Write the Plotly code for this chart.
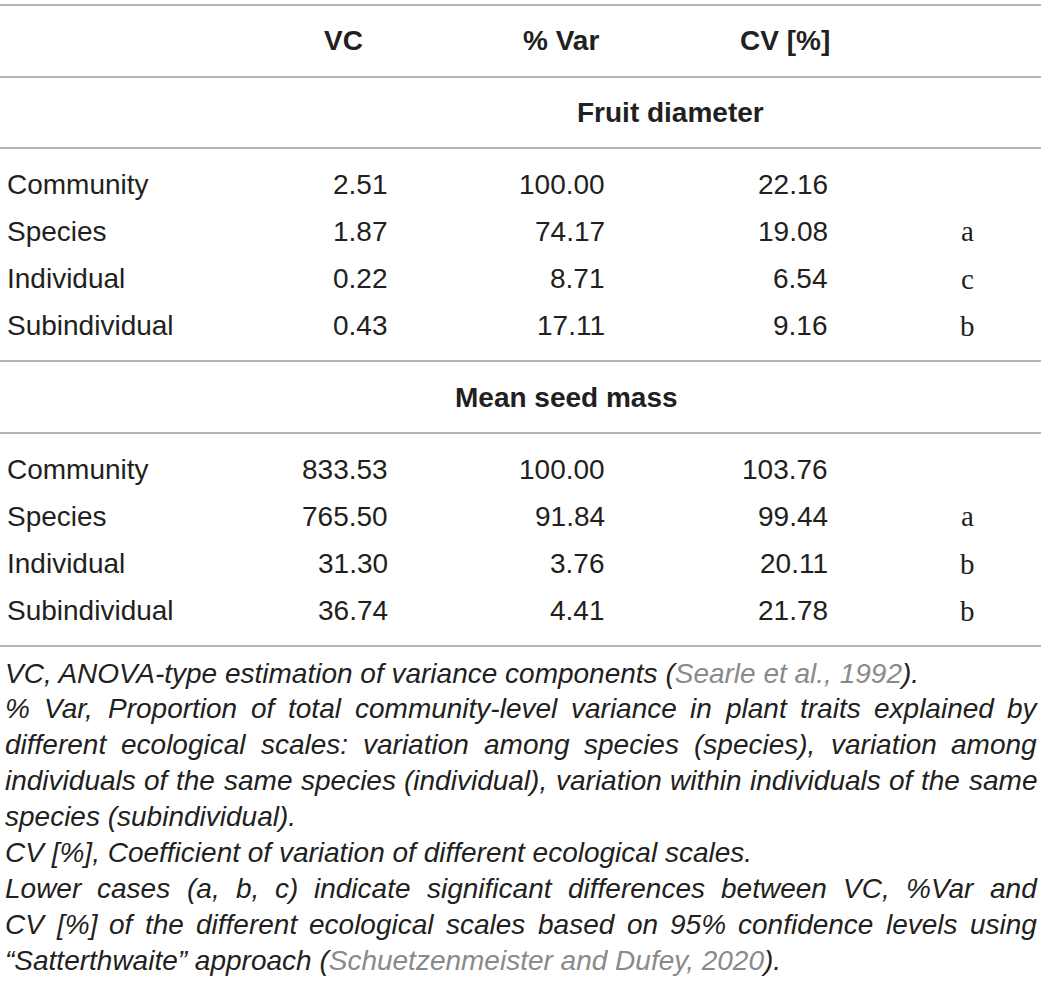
import plotly.graph_objects as go

# table content
headers = ["VC", "% Var", "CV [%]"]
groups = ["Fruit diameter", "Mean seed mass"]
scales = ["Community", "Species", "Individual", "Subindividual"]
vc_fruit = ["2.51", "1.87", "0.22", "0.43"]
var_fruit = ["100.00", "74.17", "8.71", "17.11"]
cv_fruit = ["22.16", "19.08", "6.54", "9.16"]
sig_fruit = ["", "a", "c", "b"]
vc_seed = ["833.53", "765.50", "31.30", "36.74"]
var_seed = ["100.00", "91.84", "3.76", "4.41"]
cv_seed = ["103.76", "99.44", "20.11", "21.78"]
sig_seed = ["", "a", "b", "b"]

grey = "#9a9a9a"
cite = "#8a8a8a"
# (text, justified?)
footnotes = [
    ("VC, ANOVA-type estimation of variance components (<span style='color:" + cite + "'>Searle et al., 1992</span>).", False),
    ("% Var, Proportion of total community-level variance in plant traits explained by", True),
    ("different ecological scales: variation among species (species), variation among", True),
    ("individuals of the same species (individual), variation within individuals of the same", True),
    ("species (subindividual).", False),
    ("CV [%], Coefficient of variation of different ecological scales.", False),
    ("Lower cases (a, b, c) indicate significant differences between VC, %Var and", True),
    ("CV [%] of the different ecological scales based on 95% confidence levels using", True),
    ("\u201cSatterthwaite\u201d approach (<span style='color:" + cite + "'>Schuetzenmeister and Dufey, 2020</span>).", False),
]

W, H = 1041, 993
txt = "#231f20"
fnt = "Liberation Sans, Arial, sans-serif"
fs = 28
fn_size = 28

# Arial / Liberation Sans advance widths (1/1000 em), used to justify footnote lines
adv = {" ": 278, "%": 889, "(": 333, ")": 333, ",": 278, "-": 333, ".": 278, ":": 278,
       "[": 278, "]": 278, "\u201c": 333, "\u201d": 333}
for ch in "0123456789":
    adv[ch] = 556
for ch, w in zip("ABCDEFGHIJKLMNOPQRSTUVWXYZ",
                 [667, 667, 722, 722, 667, 611, 778, 722, 278, 500, 667, 556, 833,
                  722, 778, 667, 778, 722, 667, 611, 722, 667, 944, 667, 667, 611]):
    adv[ch] = w
for ch, w in zip("abcdefghijklmnopqrstuvwxyz",
                 [556, 556, 500, 556, 556, 278, 556, 556, 222, 222, 500, 222, 833,
                  556, 556, 556, 556, 333, 500, 278, 556, 500, 722, 500, 500, 500]):
    adv[ch] = w


def text_width(s, size):
    return sum(adv.get(ch, 556) for ch in s) * size / 1000.0


fig = go.Figure()
fig.add_trace(go.Scatter(x=[0, W], y=[0, H], mode="markers", marker=dict(opacity=0), hoverinfo="skip"))


def ann(x, y, t, anchor="left", bold=False, size=fs, italic=False, family=fnt, color=txt):
    if bold:
        t = "<b>" + t + "</b>"
    if italic:
        t = "<i>" + t + "</i>"
    fig.add_annotation(x=x, y=y, text=t, showarrow=False, xanchor=anchor, yanchor="middle",
                       font=dict(family=family, size=size, color=color))


def hline(y):
    fig.add_shape(type="line", x0=0, x1=W, y0=y, y1=y, line=dict(color=grey, width=1.5))


# header
hline(5)
ann(343, 40, headers[0], "center", bold=True)
ann(561, 40, headers[1], "center", bold=True)
ann(785, 40, headers[2], "center", bold=True)
hline(77)

col_right = [390, 607, 830]
row_h = 47.3

blocks = [
    (groups[0], 670, 112, [vc_fruit, var_fruit, cv_fruit], sig_fruit),
    (groups[1], 566, 397, [vc_seed, var_seed, cv_seed], sig_seed),
]
for name, cx, gy, cols, sig in blocks:
    ann(cx, gy, name, "center", bold=True)
    hline(gy + 36)
    for i, s in enumerate(scales):
        y = gy + 72 + i * row_h
        ann(5, y, s)
        for c, vals in enumerate(cols):
            ann(col_right[c], y, vals[i], "right")
        if sig[i]:
            ann(967, y, sig[i], "center", family="Liberation Serif, Times New Roman, serif", size=29)
    hline(gy + 72 + 3 * row_h + 35)

# footnotes
left, right = 3, 1035
for k, (line, justify) in enumerate(footnotes):
    y = 673 + k * 35.9
    if not justify:
        ann(left, y, line, italic=True, size=fn_size)
        continue
    words = line.split(" ")
    ws = [text_width(w, fn_size) for w in words]
    gap = (right - left - sum(ws)) / (len(words) - 1)
    x = left
    for w, wd in zip(words, ws):
        ann(x, y, w, italic=True, size=fn_size)
        x += wd + gap

fig.update_layout(
    width=W, height=H, margin=dict(l=0, r=0, t=0, b=0),
    paper_bgcolor="white", plot_bgcolor="white", showlegend=False,
    xaxis=dict(range=[0, W], visible=False, fixedrange=True),
    yaxis=dict(range=[H, 0], visible=False, fixedrange=True),
)
fig.write_html("out.html", config={"displayModeBar": False},
               post_script="document.body.style.margin='0';document.body.style.overflow='hidden';")
